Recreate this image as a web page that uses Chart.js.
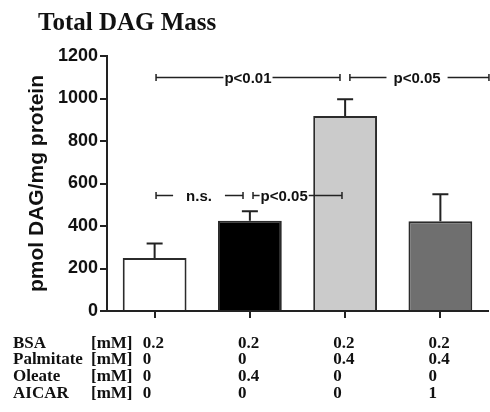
<!DOCTYPE html>
<html>
<head>
<meta charset="utf-8">
<script src="https://cdn.jsdelivr.net/npm/chart.js@4.4.1/dist/chart.umd.min.js"></script>
<style>
  body { margin: 0; background: #fff; }
  canvas { display: block; }
</style>
</head>
<body>
<canvas id="dagChart" width="490" height="412"></canvas>
<script>
// groups (bar order)
const groups = ['BSA', 'Oleate', 'Palmitate', 'Palmitate + AICAR'];
// total DAG, pmol/mg protein, mean and SEM
const dagMean = [250, 425, 918, 422];
const dagSem = [68, 44, 79, 127];
const barColors = ['#ffffff', '#000000', '#cbcbcb', '#6f6f6f'];

// y axis ticks
const yMin = 0;
const yMax = 1200;
const yStep = 200;

// treatment table under the bars
const treatRows = ['BSA', 'Palmitate', 'Oleate', 'AICAR'];
const treatUnit = '[mM]';
const bsaConc = ['0.2', '0.2', '0.2', '0.2'];
const palmitateConc = ['0', '0', '0.4', '0.4'];
const oleateConc = ['0', '0.4', '0', '0'];
const aicarConc = ['0', '0', '0', '1'];
const treatValues = [bsaConc, palmitateConc, oleateConc, aicarConc];

const SANS = "'Liberation Sans', Arial, sans-serif";
const SERIF = "'Liberation Serif', 'Times New Roman', serif";
const INK = '#222';

// significance brackets (x in category index units, y in data units)
const brackets = [
  { from: 0.015, to: 1.946, y: 1100, label: 'p<0.01', at: 0.98, pad: 1 },
  { from: 2.05, to: 3.51, y: 1100, label: 'p<0.05', at: 2.755, pad: 7 },
  { from: 0.015, to: 0.928, y: 546, label: 'n.s.', at: 0.466, pad: 13 },
  { from: 1.033, to: 1.967, y: 546, label: 'p<0.05', at: 1.36, pad: 1 },
];

const errorBars = {
  id: 'errorBars',
  afterDatasetsDraw(chart) {
    const { ctx, scales: { y } } = chart;
    const meta = chart.getDatasetMeta(0);
    ctx.save();
    ctx.strokeStyle = INK;
    ctx.lineWidth = 2;
    meta.data.forEach((bar, i) => {
      const top = y.getPixelForValue(dagMean[i] + dagSem[i]);
      const base = y.getPixelForValue(dagMean[i]);
      ctx.beginPath();
      ctx.moveTo(bar.x, base);
      ctx.lineTo(bar.x, top);
      ctx.moveTo(bar.x - 8, top);
      ctx.lineTo(bar.x + 8, top);
      ctx.stroke();
    });
    ctx.restore();
  }
};

const sigBrackets = {
  id: 'sigBrackets',
  afterDraw(chart) {
    const { ctx, scales: { x, y } } = chart;
    ctx.save();
    ctx.strokeStyle = INK;
    ctx.fillStyle = '#111';
    ctx.lineWidth = 1.5;
    ctx.font = 'bold 15px ' + SANS;
    ctx.textAlign = 'center';
    ctx.textBaseline = 'alphabetic';
    brackets.forEach(b => {
      const x1 = x.getPixelForValue(b.from);
      const x2 = x.getPixelForValue(b.to);
      const xc = x.getPixelForValue(b.at);
      const py = Math.round(y.getPixelForValue(b.y)) + 0.5;
      const w = ctx.measureText(b.label).width;
      ctx.beginPath();
      ctx.moveTo(x1, py);
      ctx.lineTo(xc - w / 2 - b.pad, py);
      ctx.moveTo(xc + w / 2 + b.pad, py);
      ctx.lineTo(x2, py);
      ctx.moveTo(x1, py - 3.5);
      ctx.lineTo(x1, py + 3.5);
      ctx.moveTo(x2, py - 3.5);
      ctx.lineTo(x2, py + 3.5);
      ctx.stroke();
      ctx.fillText(b.label, xc, py + 5.5);
    });
    ctx.restore();
  }
};

const titleAndTable = {
  id: 'titleAndTable',
  afterDraw(chart) {
    const { ctx, scales: { x } } = chart;
    ctx.save();
    ctx.fillStyle = '#111';
    ctx.textAlign = 'left';
    ctx.textBaseline = 'alphabetic';
    ctx.font = 'bold 25px ' + SERIF;
    ctx.fillText('Total DAG Mass', 38, 30);

    ctx.font = 'bold 17px ' + SERIF;
    treatRows.forEach((name, r) => {
      const by = 347.5 + r * 16.7;
      ctx.fillText(name, 13, by);
      ctx.fillText(treatUnit, 91, by);
      treatValues[r].forEach((v, i) => {
        ctx.fillText(v, x.getPixelForValue(i) - 12, by);
      });
    });
    ctx.restore();
  }
};

new Chart(document.getElementById('dagChart'), {
  type: 'bar',
  data: {
    labels: groups,
    datasets: [{
      data: dagMean,
      backgroundColor: barColors,
      borderColor: '#2b2b2b',
      borderWidth: 2,
      barPercentage: 0.67,
      categoryPercentage: 1,
    }]
  },
  options: {
    responsive: false,
    animation: false,
    layout: { padding: { left: 0, right: 2, top: 56, bottom: 93 } },
    plugins: {
      legend: { display: false },
      tooltip: { enabled: false },
    },
    scales: {
      x: {
        offset: true,
        grid: {
          offset: false,
          drawOnChartArea: false,
          drawTicks: true,
          tickLength: 7,
          lineWidth: 2,
          color: INK,
        },
        border: { color: INK, width: 2 },
        ticks: { display: false },
        afterFit: (scale) => { scale.height = 8; },
      },
      y: {
        min: yMin,
        max: yMax,
        ticks: {
          stepSize: yStep,
          color: '#111',
          padding: 2,
          font: { family: SANS, size: 18, weight: 'bold' },
          callback: (v) => String(v),
        },
        grid: {
          drawOnChartArea: false,
          tickLength: 7,
          lineWidth: 2,
          color: INK,
        },
        border: { color: INK, width: 2 },
        title: {
          display: true,
          text: 'pmol DAG/mg protein',
          color: '#111',
          font: { family: SANS, size: 21, weight: 'bold' },
          padding: { top: 25, bottom: 0 },
        },
        afterFit: (scale) => { scale.width = 107; },
      }
    }
  },
  plugins: [errorBars, sigBrackets, titleAndTable]
});
</script>
</body>
</html>
